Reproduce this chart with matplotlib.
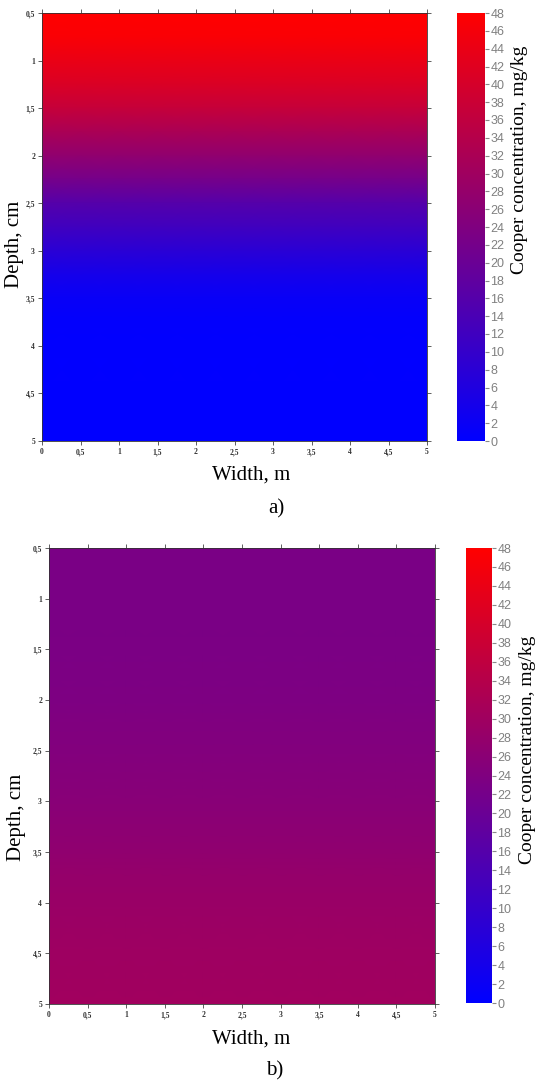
import numpy as np
import matplotlib
matplotlib.use('Agg')
import matplotlib.pyplot as plt
from matplotlib.colors import LinearSegmentedColormap
from matplotlib.ticker import FuncFormatter

# Depth profiles of copper concentration (mg/kg)
depth = [0.5, 0.75, 1.0, 1.25, 1.5, 1.75, 2.0, 2.25, 2.5, 2.75,
         3.0, 3.25, 3.5, 3.75, 4.0, 4.5, 5.0]
conc_a = [48, 47, 44, 41, 37, 32, 27, 22, 16, 12,
          8, 4, 1.5, 0.5, 0.2, 0, 0]
conc_b = [23, 23, 23, 23, 23.2, 23.4, 23.6, 24, 24.5, 25,
          25.6, 26.3, 27, 28, 28.8, 29.8, 30.2]
width = [0, 0.5, 1, 1.5, 2, 2.5, 3, 3.5, 4, 4.5, 5]

x_ticks = [0, 0.5, 1, 1.5, 2, 2.5, 3, 3.5, 4, 4.5, 5]
y_ticks = [0.5, 1, 1.5, 2, 2.5, 3, 3.5, 4, 4.5, 5]
cbar_ticks = list(range(0, 49, 2))

cmap = LinearSegmentedColormap.from_list('bluered', ['#0000ff', '#ff0000'])
comma = FuncFormatter(lambda v, p: ('%g' % v).replace('.', ','))

W, H = 548, 1084
fig = plt.figure(figsize=(W / 100, H / 100), dpi=100)


def px(x0, y0, x1, y1):
    # pixel box (top-left origin) -> figure fraction rect
    return [x0 / W, 1 - y1 / H, (x1 - x0) / W, (y1 - y0) / H]


panels = [
    dict(conc=conc_a, ax=px(42, 13, 427, 441), cax=px(457, 13, 485, 441),
         xlab=(251, 475), tag=(276, 509), tagtxt='a)', ylab=(15, 244), clab=(520, 160)),
    dict(conc=conc_b, ax=px(49, 548, 435, 1004), cax=px(466, 548, 492, 1003),
         xlab=(251, 1039), tag=(275, 1071), tagtxt='b)', ylab=(17, 817), clab=(527, 750)),
]

serif = 'Liberation Serif'

for p in panels:
    ax = fig.add_axes(p['ax'])
    X, Y = np.meshgrid(width, depth)
    Z = np.tile(np.array(p['conc'])[:, None], (1, len(width)))
    mesh = ax.pcolormesh(X, Y, Z, cmap=cmap, vmin=0, vmax=48, shading='gouraud')
    ax.set_xlim(0, 5)
    ax.set_ylim(5, 0.5)
    ax.set_xticks(x_ticks)
    ax.set_yticks(y_ticks)
    ax.xaxis.set_major_formatter(comma)
    ax.yaxis.set_major_formatter(comma)
    ax.tick_params(direction='out', length=3, width=0.6, color='#444444',
                   top=True, right=True, labelsize=5.5, pad=2)
    for lab in ax.get_xticklabels() + ax.get_yticklabels():
        lab.set_fontfamily(serif)
        lab.set_fontweight('bold')
        lab.set_color('#333333')
    for s in ax.spines.values():
        s.set_linewidth(0.6)
        s.set_color('#333333')

    cax = fig.add_axes(p['cax'])
    cb = fig.colorbar(mesh, cax=cax, ticks=cbar_ticks)
    cb.outline.set_visible(False)
    cax.tick_params(direction='out', length=3, width=0.8, color='#888888',
                    labelcolor='#808080', labelsize=9, pad=1)
    for lab in cax.get_yticklabels():
        lab.set_fontfamily('Liberation Sans')

    fig.text(p['xlab'][0] / W, 1 - p['xlab'][1] / H, 'Width, m', family=serif,
             fontsize=15, ha='center', va='center')
    fig.text(p['tag'][0] / W, 1 - p['tag'][1] / H, p['tagtxt'], family=serif,
             fontsize=15, ha='center', va='center')
    fig.text(p['ylab'][0] / W, 1 - p['ylab'][1] / H, 'Depth, cm', family=serif,
             fontsize=15, ha='center', va='center', rotation=90)
    fig.text(p['clab'][0] / W, 1 - p['clab'][1] / H, 'Cooper concentration, mg/kg',
             family=serif, fontsize=14, ha='center', va='center', rotation=90)

fig.savefig('out.png', dpi=100)
